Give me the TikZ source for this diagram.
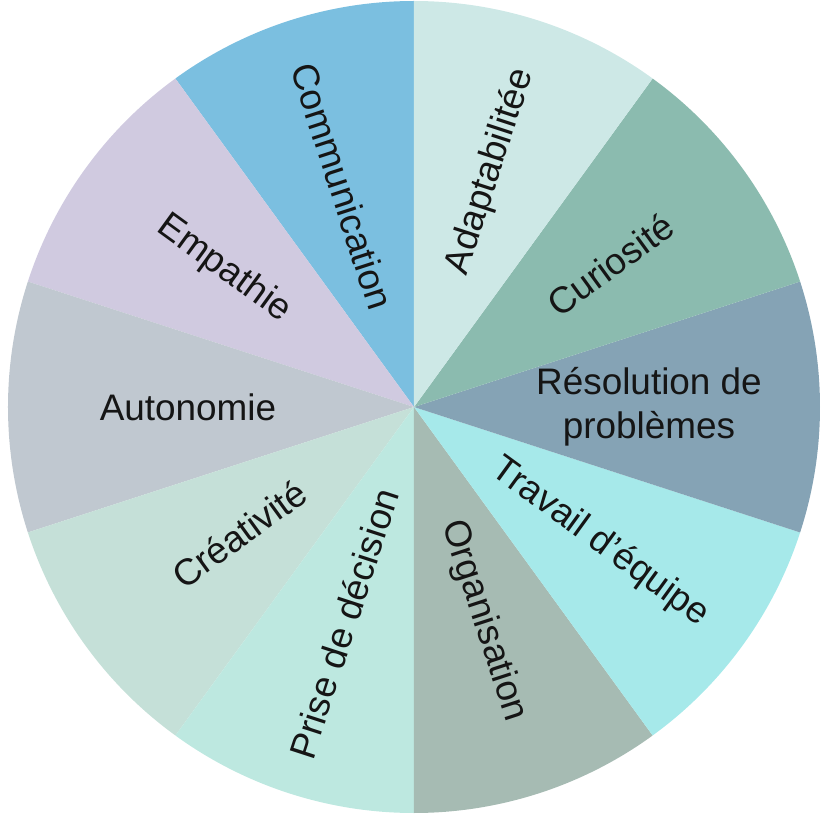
\documentclass[tikz,border=0pt]{standalone}
\usepackage{fontspec}
\setmainfont{Liberation Sans}
\usepackage{tikz}
\usetikzlibrary{positioning}
\definecolor{skInk}{HTML}{151515}
\definecolor{skComm}{HTML}{7BBFE0}
\definecolor{skAdapt}{HTML}{CDE8E6}
\definecolor{skCurio}{HTML}{8BBBAF}
\definecolor{skResol}{HTML}{85A3B5}
\definecolor{skTeam}{HTML}{A6E9EA}
\definecolor{skOrga}{HTML}{A6BBB3}
\definecolor{skDecis}{HTML}{BDE8E0}
\definecolor{skCreat}{HTML}{C5E0D8}
\definecolor{skAuton}{HTML}{C0C8D0}
\definecolor{skEmpat}{HTML}{D0CAE0}
\tikzset{
  % Label inside a slice
  lbl/.style={font=\fontsize{21}{25}\selectfont,text=skInk,
    align=center,inner sep=0pt},
}
\begin{document}
\begin{tikzpicture}
  \useasboundingbox (-8.28,-8.34) rectangle (8.28,8.14);

  % Slices of the wheel
  \fill[skComm]  (0,0) -- (90:8.12)  arc[start angle=90,end angle=126,radius=8.12] -- cycle;
  \fill[skEmpat] (0,0) -- (126:8.12) arc[start angle=126,end angle=162,radius=8.12] -- cycle;
  \fill[skAuton] (0,0) -- (162:8.12) arc[start angle=162,end angle=198,radius=8.12] -- cycle;
  \fill[skCreat] (0,0) -- (198:8.12) arc[start angle=198,end angle=234,radius=8.12] -- cycle;
  \fill[skDecis] (0,0) -- (234:8.12) arc[start angle=234,end angle=270,radius=8.12] -- cycle;
  \fill[skOrga]  (0,0) -- (270:8.12) arc[start angle=270,end angle=306,radius=8.12] -- cycle;
  \fill[skTeam]  (0,0) -- (306:8.12) arc[start angle=306,end angle=342,radius=8.12] -- cycle;
  \fill[skResol] (0,0) -- (342:8.12) arc[start angle=342,end angle=378,radius=8.12] -- cycle;
  \fill[skCurio] (0,0) -- (18:8.12)  arc[start angle=18,end angle=54,radius=8.12] -- cycle;
  \fill[skAdapt] (0,0) -- (54:8.12)  arc[start angle=54,end angle=90,radius=8.12] -- cycle;

  % Labels
  \node[lbl,rotate=-72] (comm)  at (108:4.64) {Communication};
  \node[lbl,rotate=72]  (adapt) at (72:4.95)  {Adaptabilitée};
  \node[lbl,rotate=36]  (curio) at (36:4.85)  {Curiosité};
  \node[lbl]            (resol) at (0:4.7)    {Résolution de\\problèmes};
  \node[lbl,rotate=-36] (team)  at (-36:4.6)  {Travail d’équipe};
  \node[lbl,rotate=-72] (orga)  at (-72:4.5)  {Organisation};
  \node[lbl,rotate=72]  (decis) at (-108:4.55) {Prise de décision};
  \node[lbl,rotate=36]  (creat) at (-144:4.32) {Créativité};
  \node[lbl]            (auton) at (180:4.52) {Autonomie};
  \node[lbl,rotate=-36] (empat) at (144:4.7)  {Empathie};
\end{tikzpicture}
\end{document}
